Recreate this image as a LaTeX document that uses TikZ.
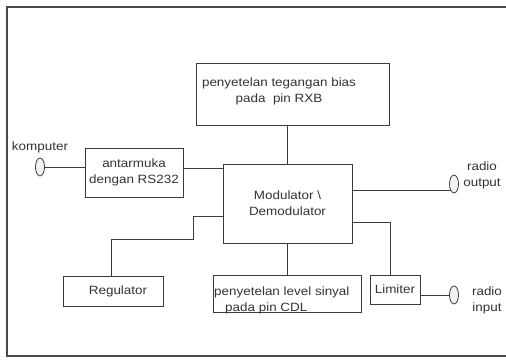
\documentclass[tikz,border=0pt]{standalone}
\usepackage{fontspec}
\setmainfont{Liberation Sans}[FakeStretch=1.12]
\usetikzlibrary{shapes.geometric}
\definecolor{frameColor}{HTML}{4A4A4A}
\definecolor{lineColor}{HTML}{3C3C3C}
\definecolor{textColor}{HTML}{333333}
\definecolor{socketColor}{HTML}{F2F2F2}
\def\textBias{penyetelan tegangan bias\\pada\ \ pin RXB}
\def\textMod{Modulator \textbackslash\\Demodulator}
\def\textAnt{antarmuka\\dengan RS232}
\def\textCdl{penyetelan level sinyal\\\hspace*{11bp}pada pin CDL}
\tikzset{
  blok/.style={draw=lineColor, line width=0.8bp, inner sep=0pt, outer sep=0pt,
    text=textColor, align=center},
  soket/.style={ellipse, draw=lineColor, fill=socketColor, line width=0.8bp,
    inner sep=0pt, outer sep=0pt, minimum width=9bp, minimum height=18bp},
  teks/.style={text=textColor, inner sep=0pt, align=center},
  kabel/.style={draw=lineColor, line width=0.8bp},
}

\begin{document}
\begin{tikzpicture}[x=1bp,y=-1bp,
  every node/.append style={font=\fontsize{12bp}{16bp}\selectfont}]
\useasboundingbox (0,0) rectangle (506,363);

% frame
\draw[frameColor, line width=1.6bp] (512,7) -- (7,7) -- (7,356) -- (512,356);

% block layer
\begin{scope}
\node[blok, minimum width=193bp, minimum height=62bp] (bias) at (292.5,94) {};
\node[teks] (biasText) at (279,91) {\textBias};
\node[blok, minimum width=129bp, minimum height=79bp] (mod) at (287.5,203.5) {\textMod};
\node[blok, minimum width=98bp, minimum height=49bp] (ant) at (134,172.5) {\textAnt};
\node[blok, minimum width=100bp, minimum height=30bp] (reg) at (113,291) {\hspace*{10bp}Regulator};
\node[blok, minimum width=148bp, minimum height=37bp] (cdl) at (287,293.5) {};
\node[teks, anchor=west, align=left] (cdlText) at (214,300) {\textCdl};
\node[blok, minimum width=50bp, minimum height=29bp] (lim) at (395,289.5) {Limiter};
\end{scope}

% socket layer
\begin{scope}
\node[soket] (kom) at (40,167) {};
\node[teks] (komText) at (40,147) {komputer};
\node[soket] (rout) at (454,184) {};
\node[teks] (routText) at (482,175) {radio\\output};
\node[soket] (rin) at (454,295) {};
\node[teks] (rinText) at (487,300) {radio\\input};
\end{scope}

% wire layer
\begin{scope}
\coordinate (antOut) at (183,168);
\coordinate (modReg) at (223,216);
\coordinate (modLim) at (352,222);
\coordinate (regBend) at (193,239);
\draw[kabel] (kom.east) -- (kom.east -| ant.west);
\draw[kabel] (antOut) -- (antOut -| mod.west);
\draw[kabel] (mod.north) -- (mod.north |- bias.south);
\draw[kabel] (mod.south) -- (mod.south |- cdl.north);
\draw[kabel] (rout.south west -| mod.east) -- (rout.south west);
\draw[kabel] (modLim) -| ([xshift=-5bp]lim.north);
\draw[kabel] (lim.east |- rin.west) -- (rin.west);
\draw[kabel] (modReg) -| (regBend) -| ([xshift=-2bp]reg.north);
\end{scope}

\end{tikzpicture}
\end{document}
